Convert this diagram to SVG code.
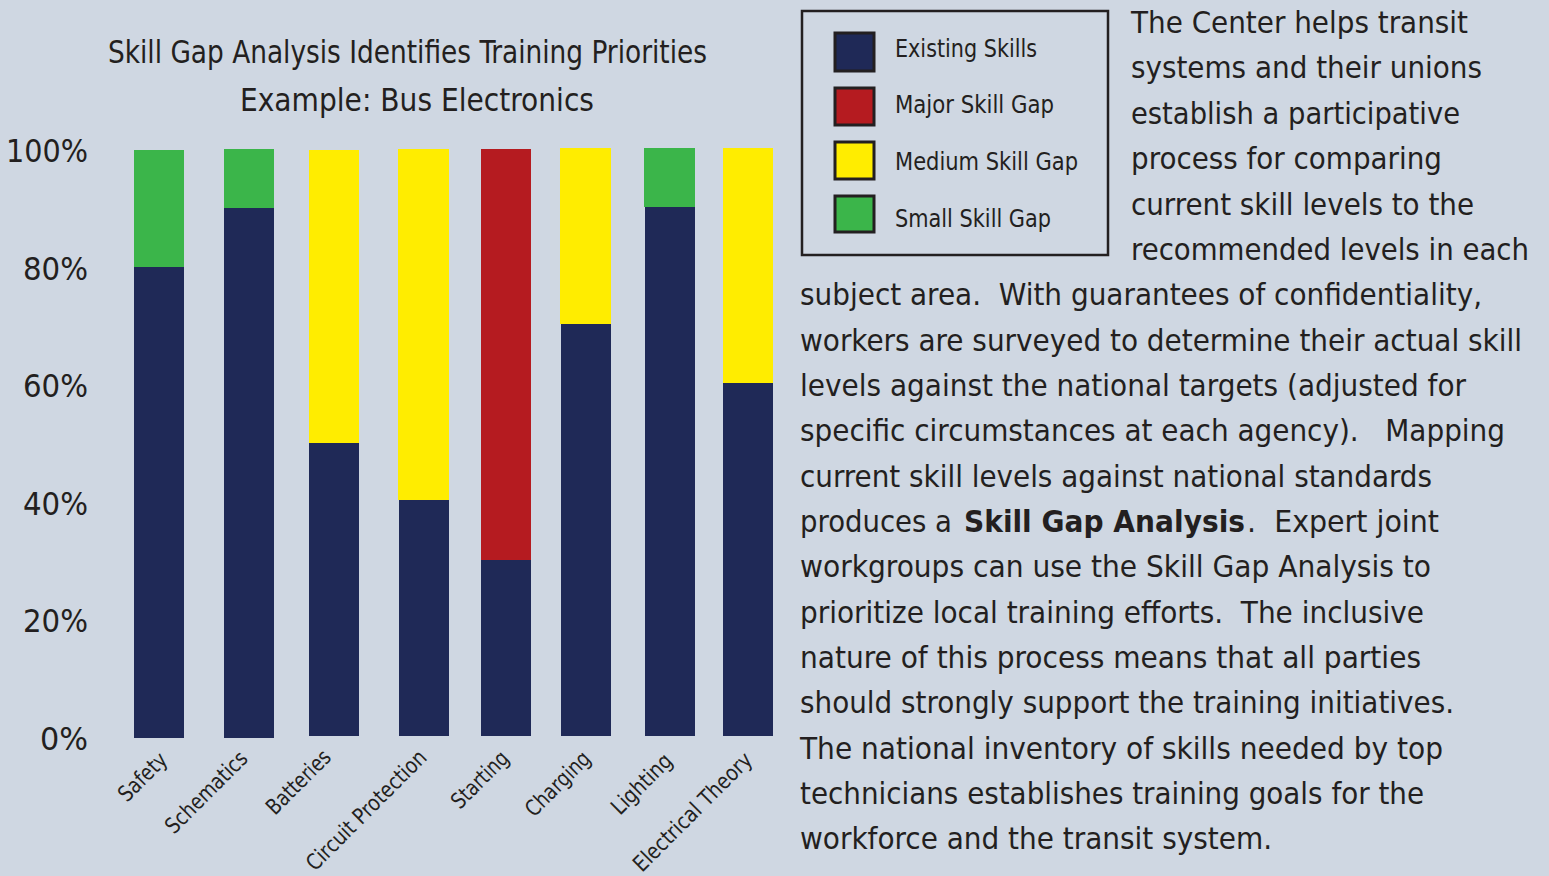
<svg xmlns="http://www.w3.org/2000/svg" width="1549" height="876" viewBox="0 0 1549 876">
<style>
text{font-family:"DejaVu Sans Condensed","DejaVu Sans",sans-serif;fill:#231f20;white-space:pre}
.title{font-size:32px}
.axis{font-size:32px}
.cat{font-size:22px}
.leg{font-size:25px}
.body{font-size:30px}
.b{font-weight:bold}
.navy{fill:#1f2957}
.green{fill:#3bb54a}
.yellow{fill:#ffed00}
.red{fill:#b51b20}
.sw{stroke:#231f20;stroke-width:3}
</style>
<rect x="0" y="0" width="1549" height="876" fill="#cfd7e2"/>
<g id="title">
<text class="title" x="108" y="63" textLength="599" lengthAdjust="spacingAndGlyphs">Skill Gap Analysis Identifies Training Priorities</text>
<text class="title" x="240" y="111" textLength="354" lengthAdjust="spacingAndGlyphs">Example: Bus Electronics</text>
</g>
<g id="y-axis">
<text class="axis" x="6" y="162" textLength="82" lengthAdjust="spacingAndGlyphs">100%</text>
<text class="axis" x="23" y="280" textLength="65" lengthAdjust="spacingAndGlyphs">80%</text>
<text class="axis" x="23" y="397" textLength="65" lengthAdjust="spacingAndGlyphs">60%</text>
<text class="axis" x="23" y="515" textLength="65" lengthAdjust="spacingAndGlyphs">40%</text>
<text class="axis" x="23" y="632" textLength="65" lengthAdjust="spacingAndGlyphs">20%</text>
<text class="axis" x="40" y="750" textLength="48" lengthAdjust="spacingAndGlyphs">0%</text>
</g>
<g id="bars">
<g id="bar-safety"><rect class="green" x="134" y="150" width="50" height="117"/><rect class="navy" x="134" y="267" width="50" height="471"/></g>
<g id="bar-schematics"><rect class="green" x="224" y="149" width="50" height="59"/><rect class="navy" x="224" y="208" width="50" height="530"/></g>
<g id="bar-batteries"><rect class="yellow" x="309" y="150" width="50" height="293"/><rect class="navy" x="309" y="443" width="50" height="293"/></g>
<g id="bar-circuit"><rect class="yellow" x="398" y="149" width="51" height="351"/><rect class="navy" x="399" y="500" width="50" height="236"/></g>
<g id="bar-starting"><rect class="red" x="481" y="149" width="50" height="411"/><rect class="navy" x="481" y="560" width="50" height="176"/></g>
<g id="bar-charging"><rect class="yellow" x="560" y="148" width="51" height="176"/><rect class="navy" x="561" y="324" width="50" height="412"/></g>
<g id="bar-lighting"><rect class="green" x="644" y="148" width="51" height="59"/><rect class="navy" x="645" y="207" width="50" height="529"/></g>
<g id="bar-electrical"><rect class="yellow" x="723" y="148" width="50" height="235"/><rect class="navy" x="723" y="383" width="50" height="353"/></g>
</g>
<g id="x-axis">
<text class="cat" transform="translate(127,803) rotate(-45)" textLength="59" lengthAdjust="spacingAndGlyphs">Safety</text>
<text class="cat" transform="translate(174,835) rotate(-45)" textLength="106" lengthAdjust="spacingAndGlyphs">Schematics</text>
<text class="cat" transform="translate(275,816) rotate(-45)" textLength="81" lengthAdjust="spacingAndGlyphs">Batteries</text>
<text class="cat" transform="translate(315,872) rotate(-45)" textLength="160" lengthAdjust="spacingAndGlyphs">Circuit Protection</text>
<text class="cat" transform="translate(460,810) rotate(-45)" textLength="71" lengthAdjust="spacingAndGlyphs">Starting</text>
<text class="cat" transform="translate(534,818) rotate(-45)" textLength="82" lengthAdjust="spacingAndGlyphs">Charging</text>
<text class="cat" transform="translate(620,816) rotate(-45)" textLength="76" lengthAdjust="spacingAndGlyphs">Lighting</text>
<text class="cat" transform="translate(642,873) rotate(-45)" textLength="158" lengthAdjust="spacingAndGlyphs">Electrical Theory</text>
</g>
<g id="legend">
<rect x="802" y="11" width="306" height="244" fill="none" stroke="#231f20" stroke-width="2.5"/>
<g id="legend-existing"><rect class="navy sw" x="835" y="33" width="39" height="38"/><text class="leg" x="895" y="57" textLength="142" lengthAdjust="spacingAndGlyphs">Existing Skills</text></g>
<g id="legend-major"><rect class="red sw" x="835" y="88" width="39" height="37"/><text class="leg" x="895" y="113" textLength="159" lengthAdjust="spacingAndGlyphs">Major Skill Gap</text></g>
<g id="legend-medium"><rect class="yellow sw" x="835" y="142" width="39" height="37"/><text class="leg" x="895" y="170" textLength="183" lengthAdjust="spacingAndGlyphs">Medium Skill Gap</text></g>
<g id="legend-small"><rect class="green sw" x="835" y="196" width="39" height="36"/><text class="leg" x="895" y="227" textLength="156" lengthAdjust="spacingAndGlyphs">Small Skill Gap</text></g>
</g>
<g id="description">
<text class="body" x="1131" y="33" textLength="337" lengthAdjust="spacingAndGlyphs">The Center helps transit</text>
<text class="body" x="1131" y="78" textLength="351" lengthAdjust="spacingAndGlyphs">systems and their unions</text>
<text class="body" x="1131" y="124" textLength="329" lengthAdjust="spacingAndGlyphs">establish a participative</text>
<text class="body" x="1131" y="169" textLength="311" lengthAdjust="spacingAndGlyphs">process for comparing</text>
<text class="body" x="1131" y="215" textLength="343" lengthAdjust="spacingAndGlyphs">current skill levels to the</text>
<text class="body" x="1131" y="260" textLength="398" lengthAdjust="spacingAndGlyphs">recommended levels in each</text>
<text class="body" x="800" y="305" textLength="682" lengthAdjust="spacingAndGlyphs">subject area.  With guarantees of confidentiality,</text>
<text class="body" x="800" y="351" textLength="722" lengthAdjust="spacingAndGlyphs">workers are surveyed to determine their actual skill</text>
<text class="body" x="800" y="396" textLength="666" lengthAdjust="spacingAndGlyphs">levels against the national targets (adjusted for</text>
<text class="body" x="800" y="441" textLength="705" lengthAdjust="spacingAndGlyphs">specific circumstances at each agency).   Mapping</text>
<text class="body" x="800" y="487" textLength="632" lengthAdjust="spacingAndGlyphs">current skill levels against national standards</text>
<text class="body" x="800" y="532" textLength="152" lengthAdjust="spacingAndGlyphs">produces a</text>
<text class="body b" x="964" y="532" textLength="281" lengthAdjust="spacingAndGlyphs">Skill Gap Analysis</text>
<text class="body" x="1247" y="532" textLength="192" lengthAdjust="spacingAndGlyphs">.  Expert joint</text>
<text class="body" x="800" y="577" textLength="631" lengthAdjust="spacingAndGlyphs">workgroups can use the Skill Gap Analysis to</text>
<text class="body" x="800" y="623" textLength="624" lengthAdjust="spacingAndGlyphs">prioritize local training efforts.  The inclusive</text>
<text class="body" x="800" y="668" textLength="621" lengthAdjust="spacingAndGlyphs">nature of this process means that all parties</text>
<text class="body" x="800" y="713" textLength="654" lengthAdjust="spacingAndGlyphs">should strongly support the training initiatives.</text>
<text class="body" x="800" y="759" textLength="643" lengthAdjust="spacingAndGlyphs">The national inventory of skills needed by top</text>
<text class="body" x="800" y="804" textLength="624" lengthAdjust="spacingAndGlyphs">technicians establishes training goals for the</text>
<text class="body" x="800" y="849" textLength="472" lengthAdjust="spacingAndGlyphs">workforce and the transit system.</text>
</g>
</svg>
